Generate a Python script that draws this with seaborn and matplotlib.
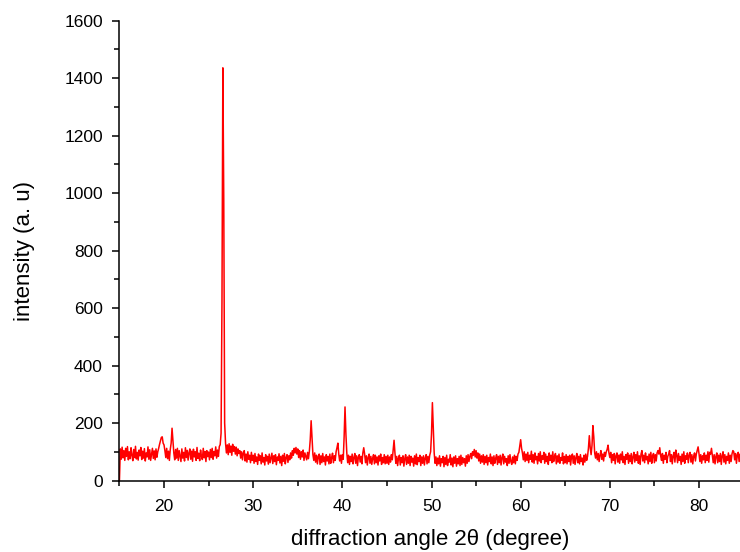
import numpy as np
import pandas as pd
import matplotlib
matplotlib.use("Agg")
import matplotlib.pyplot as plt
from matplotlib.ticker import MultipleLocator
import seaborn as sns

# Scan axis: 2-theta from 15.0 to 84.9 deg, step 0.1 deg (700 points)
two_theta = np.round(np.linspace(15.0, 84.9, 700), 1)

# Intensity (a. u.), 5-degree segments of 50 points each
seg_15_20 = [0, 110, 74, 116, 79, 104, 70, 112, 84, 118,
             72, 100, 76, 114, 88, 69, 108, 80, 119, 75,
             98, 71, 106, 86, 115, 73, 102, 78, 111, 68,
             96, 82, 117, 74, 107, 70, 92, 112, 77, 103,
             72, 110, 81, 100, 112, 126, 138, 150, 152, 130]
seg_20_25 = [124, 104, 80, 112, 76, 102, 70, 108, 130, 182,
             140, 96, 72, 108, 78, 112, 70, 104, 84, 66,
             110, 78, 98, 68, 114, 80, 105, 71, 96, 110,
             74, 102, 67, 109, 82, 100, 70, 115, 77, 95,
             69, 106, 84, 73, 112, 79, 101, 66, 104, 83]
seg_25_30 = [99, 72, 108, 80, 112, 74, 101, 86, 117, 78,
             106, 84, 118, 125, 165, 620, 1436, 980, 200, 130,
             96, 124, 90, 128, 98, 120, 88, 126, 102, 118,
             92, 116, 86, 110, 94, 104, 78, 100, 72, 96,
             104, 68, 92, 64, 100, 74, 88, 62, 98, 70]
seg_30_35 = [88, 60, 94, 66, 82, 56, 92, 70, 86, 58,
             96, 64, 80, 54, 90, 68, 84, 57, 92, 62,
             78, 95, 59, 86, 66, 90, 55, 82, 70, 93,
             61, 84, 52, 88, 67, 94, 58, 80, 90, 63,
             86, 72, 96, 78, 104, 88, 112, 96, 115, 92]
seg_35_40 = [110, 80, 104, 74, 100, 82, 106, 70, 96, 84,
             72, 98, 76, 102, 142, 208, 152, 90, 70, 96,
             64, 88, 58, 84, 92, 56, 86, 62, 94, 66,
             82, 54, 90, 68, 84, 58, 92, 60, 80, 95,
             62, 86, 70, 100, 114, 130, 92, 68, 88, 60]
seg_40_45 = [90, 74, 152, 256, 162, 96, 62, 88, 56, 84,
             66, 92, 58, 80, 94, 60, 86, 52, 82, 90,
             64, 84, 58, 96, 114, 92, 62, 86, 54, 80,
             92, 60, 84, 56, 78, 90, 58, 88, 62, 82,
             54, 86, 68, 92, 56, 80, 62, 90, 58, 84]
seg_45_50 = [60, 88, 56, 82, 64, 90, 72, 108, 140, 96,
             60, 84, 52, 78, 88, 54, 80, 62, 86, 50,
             76, 90, 56, 82, 60, 88, 52, 84, 64, 78,
             50, 86, 58, 92, 55, 80, 66, 88, 52, 82,
             60, 86, 54, 78, 90, 58, 84, 62, 88, 100]
seg_50_55 = [162, 271, 178, 96, 60, 82, 52, 78, 58, 86,
             50, 76, 62, 84, 48, 80, 56, 88, 52, 74,
             64, 90, 54, 78, 48, 82, 60, 86, 50, 76,
             58, 84, 52, 88, 56, 80, 62, 76, 50, 86,
             60, 90, 66, 84, 94, 76, 100, 88, 108, 82]
seg_55_60 = [104, 78, 96, 68, 92, 60, 86, 64, 90, 56,
             84, 62, 88, 54, 80, 66, 92, 58, 82, 52,
             86, 60, 78, 90, 56, 84, 62, 88, 54, 80,
             92, 58, 84, 64, 76, 52, 86, 60, 90, 66,
             56, 82, 62, 88, 58, 84, 70, 92, 98, 120]
seg_60_65 = [142, 112, 96, 72, 100, 66, 92, 70, 98, 62,
             88, 74, 102, 64, 90, 60, 96, 72, 84, 58,
             94, 68, 100, 62, 86, 74, 98, 60, 92, 66,
             84, 56, 96, 70, 88, 62, 100, 66, 82, 94,
             58, 86, 64, 92, 60, 80, 70, 96, 58, 84]
seg_65_70 = [62, 90, 58, 84, 66, 88, 54, 82, 92, 60,
             86, 56, 80, 94, 62, 84, 58, 90, 66, 78,
             54, 88, 64, 92, 70, 84, 112, 156, 114, 90,
             122, 191, 152, 96, 78, 100, 72, 94, 66, 88,
             104, 74, 92, 68, 98, 84, 100, 108, 123, 96]
seg_70_75 = [80, 98, 62, 90, 70, 94, 58, 86, 96, 64,
             88, 60, 92, 72, 100, 62, 84, 56, 90, 74,
             96, 60, 88, 66, 94, 58, 82, 98, 64, 90,
             70, 100, 60, 86, 56, 92, 104, 68, 88, 62,
             96, 72, 84, 58, 92, 66, 98, 60, 86, 94]
seg_75_80 = [62, 90, 68, 96, 104, 92, 114, 86, 70, 94,
             60, 88, 74, 98, 62, 84, 92, 104, 66, 90,
             58, 86, 98, 64, 106, 88, 62, 94, 70, 84,
             56, 92, 66, 100, 60, 86, 74, 96, 62, 88,
             98, 64, 90, 58, 84, 96, 68, 92, 104, 117]
seg_80_85 = [94, 66, 90, 60, 86, 72, 96, 62, 88, 70,
             100, 64, 98, 92, 112, 86, 62, 90, 58, 84,
             96, 62, 88, 66, 94, 56, 86, 100, 64, 90,
             58, 84, 70, 96, 60, 88, 66, 92, 104, 100,
             72, 94, 60, 88, 98, 66, 92, 58, 86, 74]

intensity = (seg_15_20 + seg_20_25 + seg_25_30 + seg_30_35 + seg_35_40 +
             seg_40_45 + seg_45_50 + seg_50_55 + seg_55_60 + seg_60_65 +
             seg_65_70 + seg_70_75 + seg_75_80 + seg_80_85)

x_major_ticks = [20, 30, 40, 50, 60, 70, 80]
y_major_ticks = [0, 200, 400, 600, 800, 1000, 1200, 1400, 1600]

df = pd.DataFrame({"two_theta": two_theta, "intensity": intensity})

sns.set_theme(style="ticks")
plt.rcParams["font.family"] = ["Liberation Sans", "DejaVu Sans"]

fig = plt.figure(figsize=(7.4, 5.52), dpi=100)
ax = fig.add_axes([0.1614, 0.1295, 0.8386, 0.8330])

sns.lineplot(data=df, x="two_theta", y="intensity", ax=ax,
             color="#ff0000", linewidth=1.1, sort=False, estimator=None)

ax.set_xlim(15, 84.6)
ax.set_ylim(0, 1600)
ax.set_xticks(x_major_ticks)
ax.set_yticks(y_major_ticks)
ax.xaxis.set_minor_locator(MultipleLocator(5))
ax.yaxis.set_minor_locator(MultipleLocator(100))

for side in ["top", "right"]:
    ax.spines[side].set_visible(False)
for side in ["left", "bottom"]:
    ax.spines[side].set_color("black")
    ax.spines[side].set_linewidth(1.1)

ax.tick_params(axis="both", which="major", direction="out", length=5,
               width=1.1, color="black", labelsize=12.5, labelcolor="black", pad=7)
ax.tick_params(axis="x", which="major", pad=8.5)
ax.tick_params(axis="both", which="minor", direction="out", length=3.5,
               width=1.1, color="black")

ax.set_xlabel("diffraction angle 2θ (degree)", fontsize=16, color="black", labelpad=10.5)
ax.set_ylabel("intensity (a. u)", fontsize=16, color="black", labelpad=21)

fig.savefig("out.png", dpi=100, facecolor="white")
